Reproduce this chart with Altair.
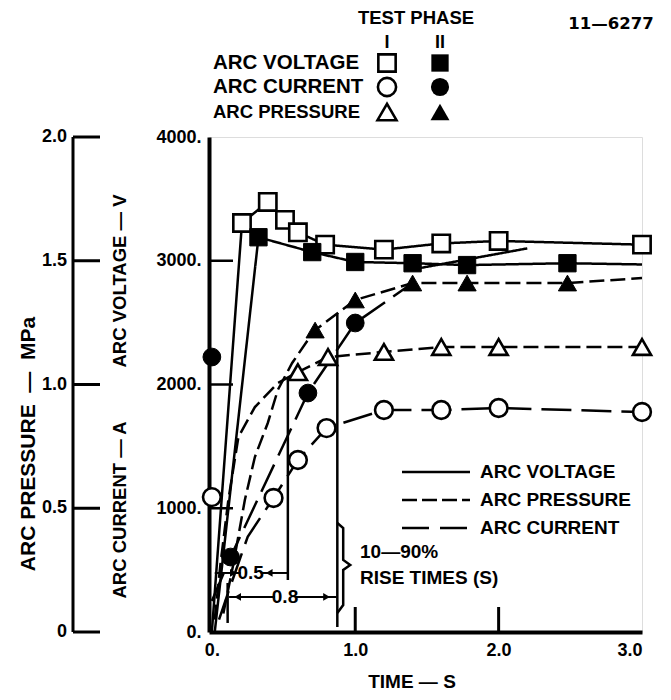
import altair as alt
import pandas as pd

# ---------------- data (time in s, value on the 0-4000 inner scale) ----------------
# Arc voltage, test phase I (open squares)
vI_t = [0.00, 0.21, 0.39, 0.51, 0.60, 0.79, 1.20, 1.60, 2.00, 3.00]
vI_v = [0, 3305, 3475, 3330, 3230, 3130, 3090, 3140, 3160, 3130]
vI_m = [0, 1, 1, 1, 1, 1, 1, 1, 1, 1]
# Arc voltage, test phase II (filled squares)
vII_t = [0.02, 0.325, 0.70, 1.00, 1.40, 1.78, 2.48, 3.00]
vII_v = [0, 3190, 3070, 2990, 2980, 2965, 2980, 2970]
vII_m = [0, 1, 1, 1, 1, 1, 1, 0]
# extra voltage trace segment
vX_t = [1.40, 2.20]
vX_v = [2930, 3100]
vX_m = [0, 0]
# Arc pressure phase I (open triangles)
pI_t = [0.02, 0.06, 0.115, 0.185, 0.30, 0.46, 0.60, 0.81, 1.20, 1.60, 2.00, 3.00]
pI_v = [100, 550, 1067, 1576, 1818, 2012, 2100, 2222, 2263, 2303, 2303, 2303]
pI_m = [0, 0, 0, 0, 0, 0, 1, 1, 1, 1, 1, 1]
# Arc pressure phase II (filled triangles)
pII_t = [0.08, 0.15, 0.23, 0.30, 0.39, 0.46, 0.56, 0.67, 0.72, 1.00, 1.40, 1.78, 2.48, 3.00]
pII_v = [150, 550, 1067, 1414, 1689, 1956, 2174, 2360, 2440, 2683, 2820, 2820, 2820, 2860]
pII_m = [0, 0, 0, 0, 0, 0, 0, 0, 1, 1, 1, 1, 1, 0]
# Arc current phase I (open circles)
cI_t = [0.05, 0.12, 0.25, 0.43, 0.60, 0.80, 1.20, 1.60, 2.00, 3.00]
cI_v = [100, 340, 770, 1083, 1390, 1648, 1794, 1794, 1810, 1778]
cI_m = [0, 0, 0, 1, 1, 1, 1, 1, 1, 1]
# Arc current phase II (filled circles)
cII_t = [0.00, 0.13, 0.67, 1.00, 1.40]
cII_v = [250, 606, 1931, 2497, 2820]
cII_m = [0, 1, 1, 1, 0]
# isolated points at t = 0
iso_t = [0.0, 0.0]
iso_v = [1090, 2222]
iso_kind = ["C", "C"]
iso_phase = ["I", "II"]

# axis tick values / labels
x_ticks = [0, 1, 2, 3]
y_ticks = [0, 1000, 2000, 3000, 4000]
x_inner = [1, 2]
y_inner = [1000, 2000, 3000]
p_ticks = [0, 0.5, 1.0, 1.5, 2.0]
p_labels = ["0", "0.5", "1.0", "1.5", "2.0"]

# rise-time annotation geometry
rise_t = [0.53, 0.875, 0.11]
rise_v0 = [420, 40, 73]
rise_v1 = [2050, 2578, 396]
dim_t0 = [0.02, 0.34, 0.12, 0.58]
dim_t1 = [0.20, 0.53, 0.44, 0.87]
dim_v = [477, 477, 283, 283]
arrow_t = [0.15, 0.40, 0.18, 0.80]
arrow_v = [477, 477, 283, 283]
arrow_shape = ["triangle-right", "triangle-left", "triangle-left", "triangle-right"]
brace_t = [0.875, 0.916, 0.916, 0.965, 0.916, 0.916, 0.875]
brace_v = [881, 840, 582, 541, 501, 218, 154]

# ---------------- build tables ----------------
rows = []
def add(name, kind, phase, ts, vs, ms):
    for i, (t, v, m) in enumerate(zip(ts, vs, ms)):
        rows.append(dict(series=name, kind=kind, phase=phase, t=t, v=v, mark=m, o=i))

add("vI", "V", "I", vI_t, vI_v, vI_m)
add("vII", "V", "II", vII_t, vII_v, vII_m)
add("vX", "V", "I", vX_t, vX_v, vX_m)
add("pI", "P", "I", pI_t, pI_v, pI_m)
add("pII", "P", "II", pII_t, pII_v, pII_m)
add("cI", "C", "I", cI_t, cI_v, cI_m)
add("cII", "C", "II", cII_t, cII_v, cII_m)
df = pd.DataFrame(rows)
pts = pd.concat([
    df[df["mark"] == 1][["t", "v", "kind", "phase"]],
    pd.DataFrame({"t": iso_t, "v": iso_v, "kind": iso_kind, "phase": iso_phase}),
], ignore_index=True)

W, H = 433, 495
FONT = "Liberation Sans"
xs = alt.Scale(domain=[-0.02, 3.0], nice=False, zero=False)
ys = alt.Scale(domain=[0, 4000], nice=False)

x_axis = alt.Axis(values=x_ticks, title=None, ticks=False, grid=False, domainWidth=4,
                  domainColor="black", labelFont=FONT, labelFontWeight="bold",
                  labelFontSize=18, labelColor="black", labelPadding=9,
                  labelExpr="datum.value == 0 ? '0.' : format(datum.value, '.1f')")
y_axis = alt.Axis(values=y_ticks, title=None, ticks=False, grid=False, domainWidth=4,
                  domainColor="black", labelFont=FONT, labelFontWeight="bold",
                  labelFontSize=18, labelColor="black", labelPadding=8,
                  labelExpr="datum.value + '.'")

def X(f="t"):
    return alt.X(f + ":Q", scale=xs, axis=x_axis)

def Y(f="v"):
    return alt.Y(f + ":Q", scale=ys, axis=y_axis)

shape_sc = alt.Scale(domain=["V", "C", "P"], range=["square", "circle", "triangle-up"])
size_sc = alt.Scale(domain=["V", "C", "P"], range=[300, 330, 360])

layers = []
# data lines
dashes = {"V": [1, 0], "P": [15, 6], "C": [30, 10]}
for k in ["V", "P", "C"]:
    layers.append(
        alt.Chart(df[df["kind"] == k]).mark_line(color="black", strokeWidth=2.5,
                                                  strokeDash=dashes[k]).encode(
            x=X(), y=Y(), detail="series:N", order="o:Q")
    )

# annotation: rise-time verticals, dimension lines, brace
rise_df = pd.DataFrame({"t": rise_t, "v0": rise_v0, "v1": rise_v1})
layers.append(alt.Chart(rise_df).mark_rule(color="black", strokeWidth=2.5).encode(
    x=X(), y=Y("v0"), y2="v1:Q"))
dim_df = pd.DataFrame({"t0": dim_t0, "t1": dim_t1, "v": dim_v})
layers.append(alt.Chart(dim_df).mark_rule(color="black", strokeWidth=2).encode(
    x=X("t0"), x2="t1:Q", y=Y()))
arr_df = pd.DataFrame({"t": arrow_t, "v": arrow_v, "s": arrow_shape})
layers.append(alt.Chart(arr_df).mark_point(filled=True, color="black", size=60, opacity=1).encode(
    x=X(), y=Y(), shape=alt.Shape("s:N", scale=None)))
brace_df = pd.DataFrame({"t": brace_t, "v": brace_v, "o": list(range(len(brace_t)))})
layers.append(alt.Chart(brace_df).mark_line(color="black", strokeWidth=2.5).encode(
    x=X(), y=Y(), order="o:Q"))

# inner ticks
layers.append(alt.Chart(pd.DataFrame({"v": y_inner})).mark_rule(color="black", strokeWidth=2.5).encode(
    y=Y(), x=alt.value(0), x2=alt.value(24)))
layers.append(alt.Chart(pd.DataFrame({"t": x_inner})).mark_rule(color="black", strokeWidth=3).encode(
    x=X(), y=alt.value(H), y2=alt.value(H - 25)))

# markers
layers.append(alt.Chart(pts[pts["phase"] == "I"]).mark_point(
    filled=True, fill="white", stroke="black", strokeWidth=2.6, opacity=1).encode(
    x=X(), y=Y(), shape=alt.Shape("kind:N", scale=shape_sc, legend=None),
    size=alt.Size("kind:N", scale=size_sc, legend=None)))
layers.append(alt.Chart(pts[pts["phase"] == "II"]).mark_point(
    filled=True, fill="black", stroke="black", strokeWidth=1, opacity=1).encode(
    x=X(), y=Y(), shape=alt.Shape("kind:N", scale=shape_sc, legend=None),
    size=alt.Size("kind:N", scale=size_sc, legend=None)))

# pressure axis (outer left scale, 0-2.0 MPa)
one = pd.DataFrame({"a": [0]})
PX = -136
layers.append(alt.Chart(one).mark_rule(color="black", strokeWidth=3).encode(
    x=alt.value(PX), y=alt.value(0), y2=alt.value(H)))
p_df = pd.DataFrame({"p": p_ticks, "lab": p_labels})
layers.append(alt.Chart(p_df).transform_calculate(v="datum.p * 2000").mark_rule(
    color="black", strokeWidth=3).encode(y=Y(), x=alt.value(PX), x2=alt.value(PX + 27)))
layers.append(alt.Chart(p_df).transform_calculate(v="datum.p * 2000").mark_text(
    align="right", baseline="middle", font=FONT, fontWeight="bold", fontSize=18, color="black").encode(
    y=Y(), x=alt.value(PX - 6), text="lab:N"))

def txt(s, x, y, size=18, align="left", angle=0, font=FONT, weight="bold"):
    return alt.Chart(one).mark_text(text=s, align=align, baseline="middle", font=font,
                                    fontWeight=weight, fontSize=size, color="black",
                                    angle=angle).encode(x=alt.value(x), y=alt.value(y))

# axis titles
layers.append(txt("ARC PRESSURE\u00a0\u00a0\u2014\u00a0\u00a0MPa", -180, 307, size=21, align="center", angle=270))
layers.append(txt("ARC VOLTAGE \u2014 V", -89, 144, size=18.5, align="center", angle=270))
layers.append(txt("ARC CURRENT \u2014 A", -89, 373, size=18.5, align="center", angle=270))
layers.append(txt("TIME \u2014 S", 203, 545, size=19, align="center"))

# top legend
layers.append(txt("TEST PHASE", 207, -119, size=18.5, align="center"))
layers.append(txt("11\u20146277", 402, -113, size=16.5, align="center", font="DejaVu Sans"))
layers.append(txt("I", 178, -94, size=18, align="center"))
layers.append(txt("II", 231, -94, size=18, align="center"))
leg_rows = [("ARC VOLTAGE", "square", -74, 300, 20.5), ("ARC CURRENT", "circle", -50, 330, 20.5),
            ("ARC PRESSURE", "triangle-up", -25, 360, 18.5)]
for lab, shp, yy, sz, fs in leg_rows:
    layers.append(txt(lab, 4, yy, size=fs))
    layers.append(alt.Chart(one).mark_point(shape=shp, size=sz, filled=True, fill="white",
                                            stroke="black", strokeWidth=2.6, opacity=1).encode(
        x=alt.value(178), y=alt.value(yy)))
    layers.append(alt.Chart(one).mark_point(shape=shp, size=sz, filled=True, fill="black",
                                            opacity=1).encode(x=alt.value(231), y=alt.value(yy)))

# line-style legend (lower right)
for lab, dash, yy in [("ARC VOLTAGE", [1, 0], 335), ("ARC PRESSURE", [15, 5], 363),
                      ("ARC CURRENT", [27, 11], 391)]:
    layers.append(alt.Chart(one).mark_rule(color="black", strokeWidth=2.5, strokeDash=dash).encode(
        x=alt.value(193), x2=alt.value(261), y=alt.value(yy)))
    layers.append(txt(lab, 271, yy, size=19))

# rise-time labels
layers.append(alt.Chart(pd.DataFrame({"t": [0.27, 0.51], "v": [477, 283], "s": ["0.5", "0.8"]})).mark_text(
    font=FONT, fontWeight="bold", fontSize=19, color="black", baseline="middle").encode(
    x=X(), y=Y(), text="s:N"))
layers.append(txt("10\u201490%", 151, 415, size=19))
layers.append(txt("RISE TIMES (S)", 151, 441, size=19))

chart = alt.layer(*layers).properties(
    width=W, height=H,
    autosize=alt.AutoSizeParams(type="none"),
    padding={"left": 201, "top": 129, "right": 12, "bottom": 60},
).configure_view(stroke="black", strokeWidth=2.5).configure(background="white")

chart.save("out.html", embed_options={"renderer": "svg", "actions": False})
